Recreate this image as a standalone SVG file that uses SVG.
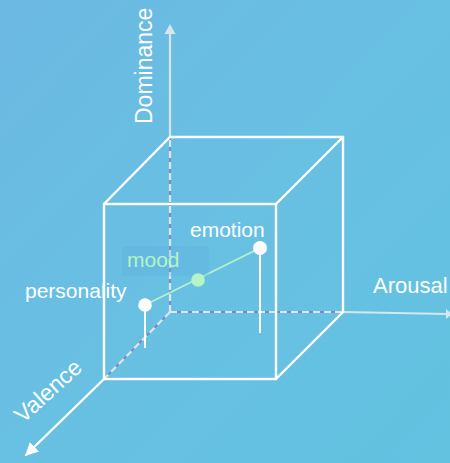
<svg xmlns="http://www.w3.org/2000/svg" width="450" height="463" viewBox="0 0 450 463">
<defs>
<linearGradient id="bg" x1="0" y1="0" x2="1" y2="1">
<stop offset="0" stop-color="#6cb9e3"/>
<stop offset="0.5" stop-color="#68c0e3"/>
<stop offset="1" stop-color="#62c2e0"/>
</linearGradient>
<marker id="wh" viewBox="0 0 10 10" refX="9" refY="5" markerWidth="5.5" markerHeight="5.5" orient="auto" markerUnits="strokeWidth">
<path d="M0,0 L10,5 L0,10 z" fill="#ffffff"/>
</marker>
</defs>
<style>
.cube{stroke:#ffffff;stroke-width:2.4;fill:none;stroke-linecap:round}
.dash{stroke:#dce6ec;stroke-width:2.2;stroke-dasharray:7 4;fill:none}
.dot{stroke:#8d73b3;stroke-width:1.4;fill:none}
.axis{stroke:#d6e6ec;stroke-width:2.2;fill:none}
.lbl{font-family:"Liberation Sans",Arial,sans-serif;font-size:21px;fill:#ffffff}
.ax{font-family:"Liberation Sans",Arial,sans-serif;font-size:23px;fill:#ffffff}
.stem{stroke:#ffffff;stroke-width:2}
</style>
<rect width="450" height="463" fill="url(#bg)"/>
<g id="connectors">
<line class="dot" x1="170" y1="312" x2="343" y2="312"/>
<line class="dot" x1="170" y1="312" x2="170" y2="137"/>
<line class="dot" x1="170" y1="312" x2="104" y2="379"/>
<line class="dash" x1="170" y1="312" x2="343" y2="312"/>
<line class="dash" x1="170" y1="312" x2="170" y2="137"/>
<line class="dash" x1="170" y1="312" x2="104" y2="379"/>
<line class="axis" x1="170" y1="137" x2="170" y2="33"/>
<polygon points="170,24 164.5,34 175.5,34" fill="#d6e6ec"/>
<line class="axis" x1="343" y1="312" x2="448" y2="314"/>
<polygon points="452,314 446,309 446,319" fill="#d6e6ec"/>
<line class="cube" x1="104" y1="379" x2="26" y2="455" marker-end="url(#wh)"/>
<line stroke="#b6f3c6" stroke-width="1.8" x1="145" y1="305" x2="260" y2="248"/>
</g>
<g id="cube">
<rect class="cube" x="104" y="204" width="172" height="175"/>
<polyline class="cube" points="104,204 170,137 343,137 343,312 276,379"/>
<line class="cube" x1="276" y1="204" x2="343" y2="137"/>
</g>
<g id="axis-labels">
<text class="ax" transform="translate(152,124) rotate(-90)">Dominance</text>
<text class="ax" x="373" y="293" style="font-size:22px">Arousal</text>
<text class="ax" transform="translate(23,424) rotate(-42)">Valence</text>
</g>
<g id="personality">
<line class="stem" x1="145" y1="305" x2="145" y2="348"/>
<circle cx="145" cy="305" r="6.8" fill="#ffffff"/>
<text class="lbl" x="25" y="298">personality</text>
</g>
<g id="mood">
<rect x="122" y="246" width="87" height="30" rx="4" fill="#5aa8dc" fill-opacity="0.25"/>
<circle cx="198" cy="280" r="6.8" fill="#b6f3c6"/>
<text class="lbl" x="127" y="267" style="fill:#b6f3c6">mood</text>
</g>
<g id="emotion">
<line class="stem" x1="260" y1="248" x2="260" y2="333"/>
<circle cx="260" cy="248" r="7" fill="#ffffff"/>
<text class="lbl" x="190" y="237">emotion</text>
</g>
</svg>
